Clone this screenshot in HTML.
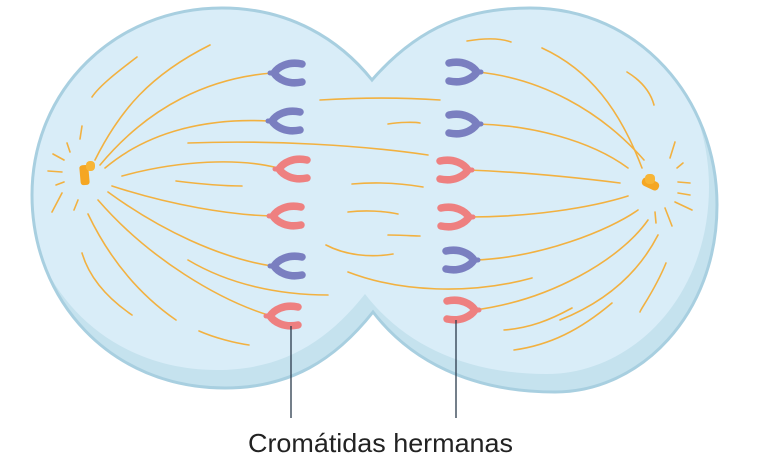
<!DOCTYPE html>
<html><head><meta charset="utf-8"><style>
html,body{margin:0;padding:0;background:#fff;width:770px;height:464px;overflow:hidden}
svg{display:block}
</style></head><body>
<svg width="770" height="464" viewBox="0 0 770 464" xmlns="http://www.w3.org/2000/svg">
<defs>
<path id="shape" d="M372,80 C420,25 470,8 530,8 C640,8 717,100 717,205 C717,315 640,392 555,392 C470,392 410,360 373,312 C335,360 290,388 225,388 C110,388 32,300 32,195 C32,90 115,8 222,8 C290,8 340,40 372,80 Z"/>
<clipPath id="cell"><use href="#shape"/></clipPath>
<g id="chr"><path d="M28,-9 C14,-12 4,-6 0,0 C4,6 14,12 28,9" fill="none" stroke-width="7.5" stroke-linecap="round"/><line x1="0" y1="0" x2="-4" y2="0" stroke-width="5" stroke-linecap="round"/></g>
</defs>
<g clip-path="url(#cell)">
<rect width="770" height="464" fill="#c5e2ee"/>
<use href="#shape" fill="#d9edf8" transform="translate(-8,-18)"/>
</g>
<use href="#shape" fill="none" stroke="#a8cfe0" stroke-width="3"/>
<g fill="none" stroke="#f2b140" stroke-width="1.6" stroke-linecap="round">
<path d="M100,165 C150,105 210,78 272,73"/>
<path d="M105,168 C150,130 210,118 268,121"/>
<path d="M122,176 C180,160 240,158 278,168"/>
<path d="M112,186 C170,205 230,215 272,216"/>
<path d="M108,192 C160,230 220,258 272,266"/>
<path d="M98,200 C150,260 220,300 268,315"/>
<path d="M88,214 C110,260 140,295 176,320"/>
<path d="M82,253 C90,280 110,300 132,315"/>
<path d="M95,160 C120,110 150,75 210,45"/>
<path d="M92,97 C100,85 120,70 137,57"/>
<path d="M176,181 C200,184 220,186 242,186"/>
<path d="M188,260 C230,285 280,295 328,295"/>
<path d="M199,331 C215,338 235,343 249,345"/>
<path d="M188,143 C270,140 360,145 428,155"/>
<path d="M67,143 L70,152 M53,154 L64,160 M48,171 L62,172 M56,185 L64,182 M62,193 L52,212 M78,200 L74,210 M80,139 L82,126"/>
<path d="M320,100 C370,97 410,98 440,100"/>
<path d="M388,124 C400,122 415,122 420,123"/>
<path d="M352,184 C375,182 400,183 423,187"/>
<path d="M348,212 C365,210 385,211 398,214"/>
<path d="M388,235 C400,235 415,236 420,236"/>
<path d="M326,245 C345,255 370,258 393,254"/>
<path d="M348,272 C400,292 470,295 532,278"/>
<path d="M644,160 C600,110 540,78 477,72"/>
<path d="M628,168 C590,140 530,125 477,124"/>
<path d="M620,183 C580,178 520,172 468,170"/>
<path d="M628,196 C590,208 530,217 469,217"/>
<path d="M638,210 C610,230 540,258 474,260"/>
<path d="M648,220 C620,260 550,300 475,310"/>
<path d="M658,235 C640,270 610,300 560,320"/>
<path d="M666,263 C655,290 640,310 640,312"/>
<path d="M642,168 C620,110 590,70 542,48"/>
<path d="M654,105 C650,90 640,80 627,72"/>
<path d="M572,308 C550,320 530,328 504,330"/>
<path d="M612,303 C580,330 550,345 514,350"/>
<path d="M467,41 C485,38 500,38 511,42"/>
<path d="M675,142 L670,158 M677,168 L683,163 M678,182 L690,183 M678,193 L690,195 M675,202 L692,210 M655,212 L656,223 M665,208 L672,226"/>
</g>
<g stroke="#7a7fc0">
<use href="#chr" x="274" y="73"/>
<use href="#chr" x="272" y="121"/>
<use href="#chr" x="274" y="266"/>
<use href="#chr" x="477" y="72" transform="translate(954,0) scale(-1,1)"/>
<use href="#chr" x="477" y="124" transform="translate(954,0) scale(-1,1)"/>
<use href="#chr" x="474" y="260" transform="translate(948,0) scale(-1,1)"/>
</g>
<g stroke="#ee8080">
<use href="#chr" x="279" y="169"/>
<use href="#chr" x="273" y="216"/>
<use href="#chr" x="270" y="316"/>
<use href="#chr" x="468" y="170" transform="translate(936,0) scale(-1,1)"/>
<use href="#chr" x="469" y="217" transform="translate(938,0) scale(-1,1)"/>
<use href="#chr" x="475" y="310" transform="translate(950,0) scale(-1,1)"/>
</g>
<g fill="#f5a623">
<rect x="80" y="165" width="9" height="20" rx="3" transform="rotate(-5 85 175)"/>
<rect x="86" y="161" width="9" height="10" rx="4" fill="#f7b536"/>
<rect x="642" y="180" width="18" height="9" rx="4" transform="rotate(25 652 183)"/>
<rect x="645" y="174" width="10" height="10" rx="4" fill="#f7b536"/>
</g>
<g stroke="#2a3a4a" stroke-width="1.3">
<line x1="291" y1="326" x2="291" y2="418"/>
<line x1="456" y1="320" x2="456" y2="418"/>
</g>
<text x="248" y="452" textLength="265" lengthAdjust="spacingAndGlyphs" font-family="'Liberation Sans', sans-serif" font-size="26" fill="#222">Cromátidas hermanas</text>
</svg>
</body></html>
